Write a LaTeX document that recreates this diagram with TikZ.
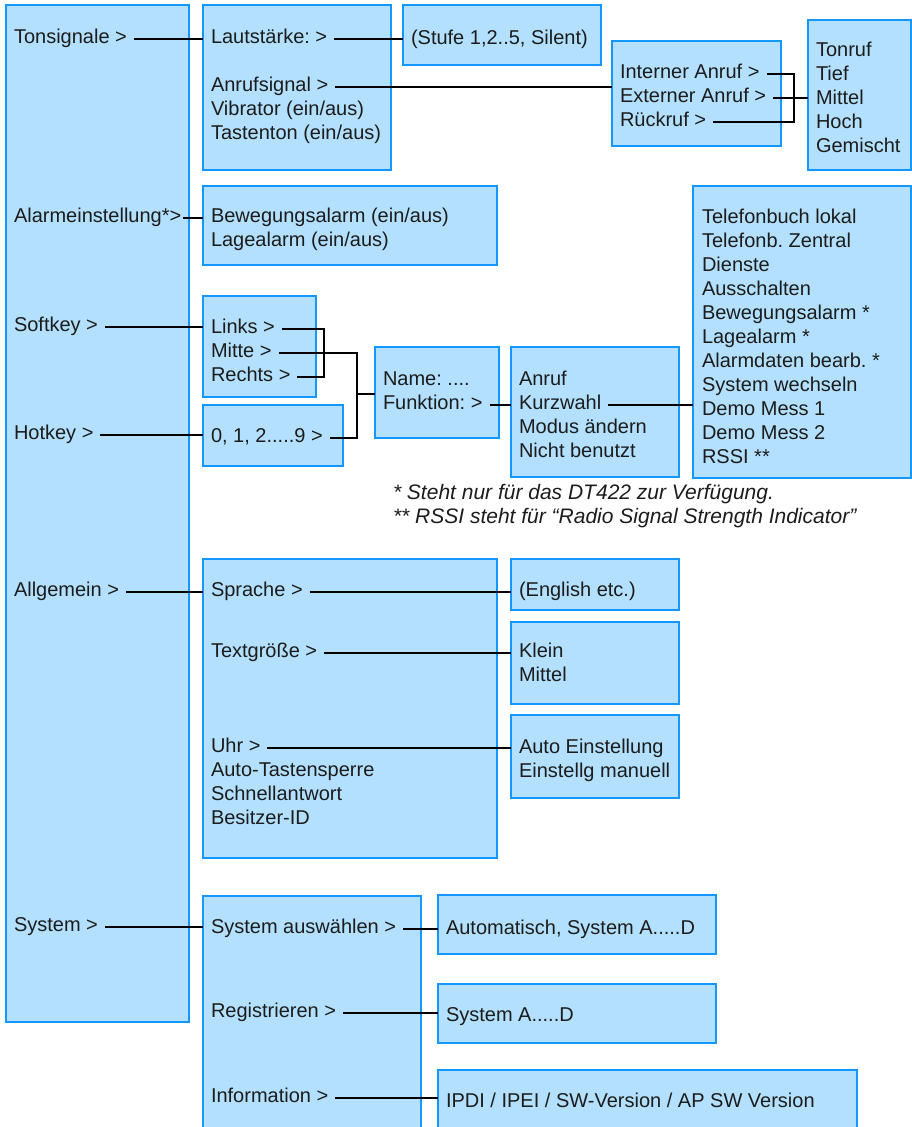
\documentclass[tikz,border=0pt]{standalone}
\usepackage{fontspec}
\setmainfont{Liberation Sans}
\definecolor{boxfill}{RGB}{179,224,255}
\definecolor{boxline}{RGB}{20,152,255}
\definecolor{ink}{RGB}{28,28,28}
\frenchspacing
\begin{document}
\begin{tikzpicture}[x=1pt,y=-1pt,
 box/.style={draw=boxline, fill=boxfill, line width=2pt, inner sep=0pt, outer sep=0pt, anchor=north west},
 txt/.style={anchor=west, inner sep=0pt, outer sep=0pt, text height=9pt, text depth=0pt, text=ink, font=\fontsize{20}{24}\selectfont},
 note/.style={txt, font=\fontsize{21}{24}\selectfont\itshape},
 conn/.style={draw=black, line width=2pt}]
\clip (0,0) rectangle (912,1127);
% boxes
\node[box, minimum width=183pt, minimum height=1017pt] (b1) at (6,5) {};
\node[box, minimum width=188pt, minimum height=165pt] (b2) at (203,5) {};
\node[box, minimum width=198pt, minimum height=60pt] (b3) at (403,5) {};
\node[box, minimum width=169pt, minimum height=105pt] (b4) at (612,41) {};
\node[box, minimum width=103pt, minimum height=150pt] (b5) at (808,20) {};
\node[box, minimum width=294pt, minimum height=79pt] (b6) at (203,186) {};
\node[box, minimum width=113pt, minimum height=101pt] (b7) at (203,296) {};
\node[box, minimum width=140pt, minimum height=61pt] (b8) at (203,405) {};
\node[box, minimum width=124pt, minimum height=91pt] (b9) at (375,347) {};
\node[box, minimum width=168pt, minimum height=130pt] (b10) at (511,347) {};
\node[box, minimum width=218pt, minimum height=292pt] (b11) at (693,186) {};
\node[box, minimum width=294pt, minimum height=299pt] (b12) at (203,559) {};
\node[box, minimum width=168pt, minimum height=51pt] (b13) at (511,559) {};
\node[box, minimum width=168pt, minimum height=82pt] (b14) at (511,622) {};
\node[box, minimum width=168pt, minimum height=83pt] (b15) at (511,715) {};
\node[box, minimum width=218pt, minimum height=250pt] (b16) at (203,896) {};
\node[box, minimum width=278pt, minimum height=59pt] (b17) at (438,895) {};
\node[box, minimum width=278pt, minimum height=59pt] (b18) at (438,984) {};
\node[box, minimum width=419pt, minimum height=80pt] (b19) at (438,1070) {};
% column 1
\node[txt] (ton) at (14,39) {Tonsignale >};
\node[txt] (alm) at (14,218) {Alarmeinstellung*>};
\node[txt] (sft) at (14,327) {Softkey >};
\node[txt] (hot) at (14,435) {Hotkey >};
\node[txt] (alg) at (14,592) {Allgemein >};
\node[txt] (sys) at (14,927) {System >};
% box 2
\node[txt] (lau) at (211,39) {Lautstärke: >};
\node[txt] (anr) at (211,87) {Anrufsignal >};
\node[txt] (vib) at (211,111) {Vibrator (ein/aus)};
\node[txt] (tas) at (211,135) {Tastenton (ein/aus)};
% box 3
\node[txt] (stu) at (411,40) {(Stufe 1,2..5, Silent)};
% box 4
\node[txt] (int) at (620,74) {Interner Anruf >};
\node[txt] (ext) at (620,98) {Externer Anruf >};
\node[txt] (rck) at (620,122) {Rückruf >};
% box 5
\node[txt] (t1) at (816,52) {Tonruf};
\node[txt] (t2) at (816,76) {Tief};
\node[txt] (t3) at (816,100) {Mittel};
\node[txt] (t4) at (816,124) {Hoch};
\node[txt] (t5) at (816,148) {Gemischt};
% box 6
\node[txt] (bew) at (211,218) {Bewegungsalarm (ein/aus)};
\node[txt] (lag) at (211,242) {Lagealarm (ein/aus)};
% box 7
\node[txt] (lnk) at (211,329) {Links >};
\node[txt] (mit) at (211,353) {Mitte >};
\node[txt] (rec) at (211,377) {Rechts >};
% box 8
\node[txt] (nul) at (211,438) {0, 1, 2.....9 >};
% box 9
\node[txt] (nam) at (383,381) {Name: ....};
\node[txt] (fkt) at (383,405) {Funktion: >};
% box 10
\node[txt] (f1) at (519,381) {Anruf};
\node[txt] (f2) at (519,405) {Kurzwahl};
\node[txt] (f3) at (519,429) {Modus ändern};
\node[txt] (f4) at (519,453) {Nicht benutzt};
% box 11
\node[txt] (m1) at (702,219) {Telefonbuch lokal};
\node[txt] (m2) at (702,243) {Telefonb. Zentral};
\node[txt] (m3) at (702,267) {Dienste};
\node[txt] (m4) at (702,291) {Ausschalten};
\node[txt] (m5) at (702,315) {Bewegungsalarm *};
\node[txt] (m6) at (702,339) {Lagealarm *};
\node[txt] (m7) at (702,363) {Alarmdaten bearb. *};
\node[txt] (m8) at (702,387) {System wechseln};
\node[txt] (m9) at (702,411) {Demo Mess 1};
\node[txt] (m10) at (702,435) {Demo Mess 2};
\node[txt] (m11) at (702,459) {RSSI **};
% notes
\node[note] (n1) at (393,495) {* Steht nur für das DT422 zur Verfügung.};
\node[note] (n2) at (393,519) {** RSSI steht für “Radio Signal Strength Indicator”};
% box 12
\node[txt] (spr) at (211,592) {Sprache >};
\node[txt] (txg) at (211,653) {Textgröße >};
\node[txt] (uhr) at (211,748) {Uhr >};
\node[txt] (ats) at (211,772) {Auto-Tastensperre};
\node[txt] (sch) at (211,796) {Schnellantwort};
\node[txt] (bes) at (211,820) {Besitzer-ID};
% box 13-15
\node[txt] (eng) at (519,592) {(English etc.)};
\node[txt] (kl) at (519,653) {Klein};
\node[txt] (mi) at (519,677) {Mittel};
\node[txt] (ae) at (519,749) {Auto Einstellung};
\node[txt] (em) at (519,773) {Einstellg manuell};
% box 16-19
\node[txt] (sau) at (211,929) {System auswählen >};
\node[txt] (reg) at (211,1013) {Registrieren >};
\node[txt] (inf) at (211,1098) {Information >};
\node[txt] (aut) at (446,930) {Automatisch, System A.....D};
\node[txt] (sad) at (446,1017) {System A.....D};
\node[txt] (ipd) at (446,1103) {IPDI / IPEI / SW-Version / AP SW Version};
% connectors
\draw[conn] ([xshift=7pt]ton.east) -- (ton.east -| b2.west);
\draw[conn] ([xshift=2pt]alm.east) -- (alm.east -| b6.west);
\draw[conn] ([xshift=7pt]sft.east) -- (sft.east -| b7.west);
\draw[conn] ([xshift=7pt]hot.east) -- (hot.east -| b8.west);
\draw[conn] ([xshift=7pt]alg.east) -- (alg.east -| b12.west);
\draw[conn] ([xshift=7pt]sys.east) -- (sys.east -| b16.west);
\draw[conn] ([xshift=7pt]lau.east) -- (lau.east -| b3.west);
\draw[conn] ([xshift=7pt]anr.east) -- (anr.east -| b4.west);
\coordinate (v1) at (794,98);
\draw[conn] ([xshift=7pt]int.east) -| (v1 |- rck.east) -- ([xshift=7pt]rck.east);
\draw[conn] ([xshift=7pt]ext.east) -- (ext.east -| b5.west);
\coordinate (v2) at (324,353);
\draw[conn] ([xshift=7pt]lnk.east) -| (v2 |- rec.east) -- ([xshift=7pt]rec.east);
\coordinate (v3) at (357,394);
\draw[conn] ([xshift=7pt]mit.east) -| (v3 |- nul.east) -- ([xshift=7pt]nul.east);
\draw[conn] (v3) -- (v3 -| b9.west);
\draw[conn] ([xshift=7pt]fkt.east) -- (fkt.east -| b10.west);
\draw[conn] ([xshift=7pt]f2.east) -- (f2.east -| b11.west);
\draw[conn] ([xshift=7pt]spr.east) -- (spr.east -| b13.west);
\draw[conn] ([xshift=7pt]txg.east) -- (txg.east -| b14.west);
\draw[conn] ([xshift=7pt]uhr.east) -- (uhr.east -| b15.west);
\draw[conn] ([xshift=7pt]sau.east) -- (sau.east -| b17.west);
\draw[conn] ([xshift=7pt]reg.east) -- (reg.east -| b18.west);
\draw[conn] ([xshift=7pt]inf.east) -- (inf.east -| b19.west);
\end{tikzpicture}
\end{document}
